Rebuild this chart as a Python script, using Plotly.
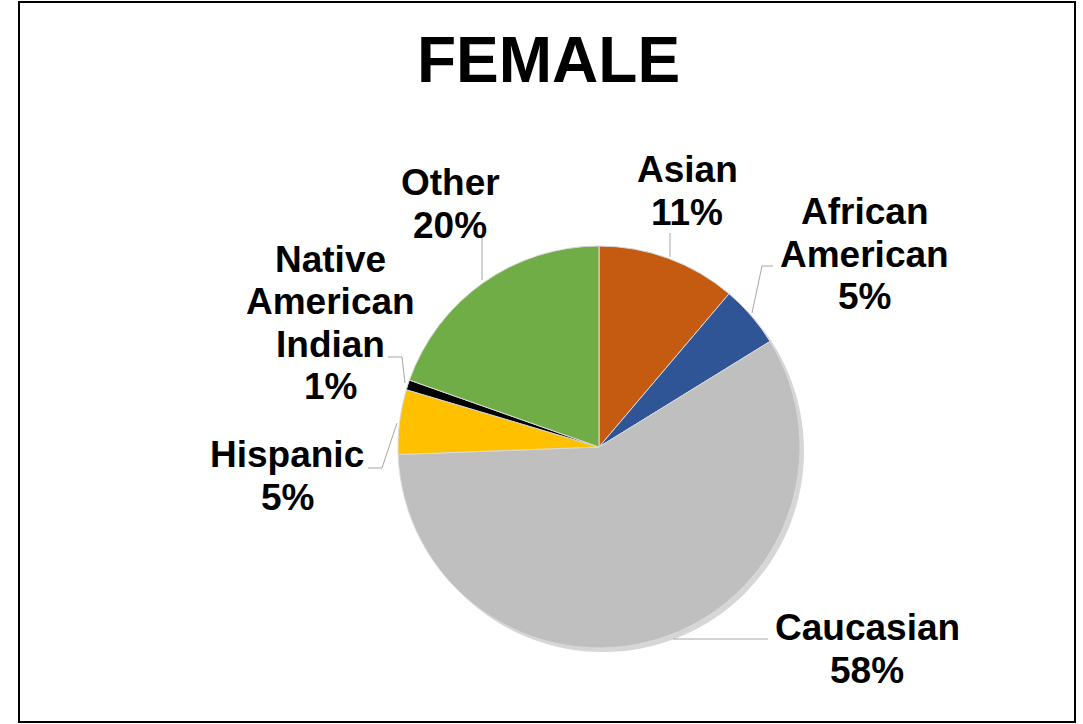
import plotly.graph_objects as go

# data (shares of female respondents)
categories = ["Asian", "African American", "Caucasian", "Hispanic", "Native American Indian", "Other"]
shares = [11.2, 5.0, 58.2, 5.2, 0.8, 19.6]
colors = ["#C55A11", "#2F5597", "#BFBFBF", "#FFC000", "#000000", "#70AD47"]

W, H = 1083, 724
FONT = "Arial, Liberation Sans, sans-serif"

# label layout: wrapped lines and block centre (pixels)
label_lines = {
    "Asian": ["Asian"],
    "African American": ["African", "American"],
    "Caucasian": ["Caucasian"],
    "Hispanic": ["Hispanic"],
    "Native American Indian": ["Native", "American", "Indian"],
    "Other": ["Other"],
}
label_pos = {
    "Asian": (687, 191),
    "African American": (864, 254),
    "Caucasian": (867, 649),
    "Hispanic": (287, 476),
    "Native American Indian": (330, 323),
    "Other": (450, 204),
}
leaders = {
    "Asian": [(670, 233), (670, 257)],
    "African American": [(773, 266), (762, 266), (752, 313)],
    "Caucasian": [(768, 639), (673, 639)],
    "Hispanic": [(368, 468), (382, 468), (397, 423)],
    "Native American Indian": [(388, 357), (402, 357), (405, 383)],
    "Other": [(482, 237), (482, 280)],
}


def px(x, y):
    return x / W, 1 - y / H


# pie placement (pixels)
cx, cy, r = 599, 447, 201
dom_x = [(cx - r) / W, (cx + r) / W]
dom_y = [1 - (cy + r) / H, 1 - (cy - r) / H]
sh = 4
fig = go.Figure()
# soft drop shadow
fig.add_trace(go.Pie(values=[1], domain=dict(x=[dom_x[0] + sh / W, dom_x[1] + sh / W],
                                             y=[dom_y[0] - sh / H, dom_y[1] - sh / H]),
                     marker=dict(colors=["rgba(0,0,0,0.16)"], line=dict(width=0)),
                     textinfo="none", hoverinfo="skip", showlegend=False))
fig.add_trace(go.Pie(labels=categories, values=shares, sort=False, direction="clockwise",
                     rotation=0, domain=dict(x=dom_x, y=dom_y),
                     marker=dict(colors=colors, line=dict(color="#D9D9D9", width=1)),
                     textinfo="none", showlegend=False))

total = sum(shares)
annotations = [dict(text="<b>FEMALE</b>", x=548 / W, y=1 - 60 / H, xref="paper", yref="paper",
                    showarrow=False, xanchor="center", yanchor="middle",
                    font=dict(family=FONT, size=64, color="black"))]
shapes = []
spacing = 42.5
for cat, val in zip(categories, shares):
    lines = label_lines[cat] + [f"{round(val / total * 100)}%"]
    bx, by = label_pos[cat]
    n = len(lines)
    for i, t in enumerate(lines):
        ly = by + (i - (n - 1) / 2) * spacing
        x, y = px(bx, ly)
        annotations.append(dict(text=f"<b>{t}</b>", x=x, y=y, xref="paper", yref="paper",
                                showarrow=False, xanchor="center", yanchor="middle",
                                font=dict(family=FONT, size=37, color="black")))
    pts = leaders[cat]
    path = "M " + " L ".join(f"{px(a, b)[0]},{px(a, b)[1]}" for a, b in pts)
    shapes.append(dict(type="path", path=path, xref="paper", yref="paper",
                       line=dict(color="#A6A6A6", width=1)))

# outer border
shapes.append(dict(type="rect", xref="paper", yref="paper",
                   x0=19 / W, x1=1075 / W, y0=1 - 722 / H, y1=1 - 2 / H,
                   line=dict(color="black", width=2)))

fig.update_layout(width=W, height=H, margin=dict(l=0, r=0, t=0, b=0),
                  paper_bgcolor="white", plot_bgcolor="white",
                  annotations=annotations, shapes=shapes)
# page body has a default 8px margin; remove it so the figure fills the window
fig.write_html("out.html", config={"displayModeBar": False},
               post_script="document.body.style.margin='0px';")
